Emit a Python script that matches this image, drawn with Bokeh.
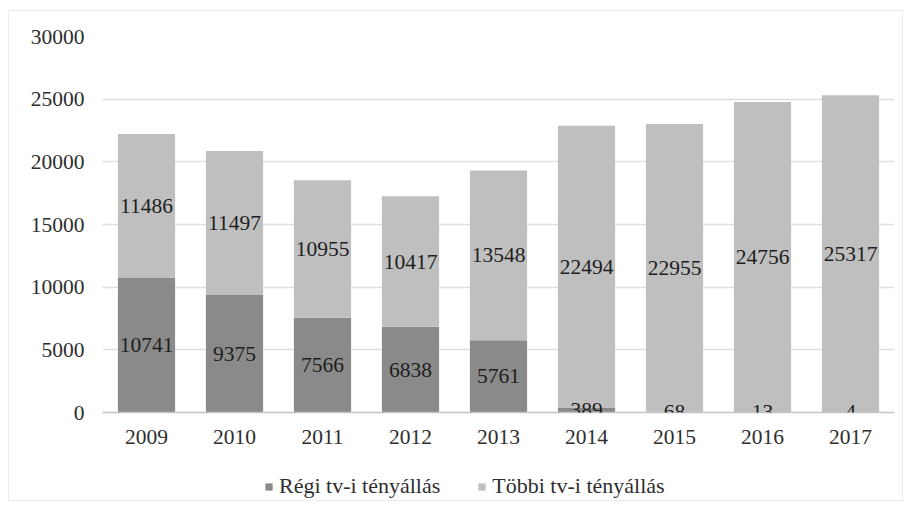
from bokeh.plotting import figure
from bokeh.layouts import column
from bokeh.models import (ColumnDataSource, FixedTicker, Range1d, FactorRange,
                          Legend, LegendItem, LabelSet)
from bokeh.core.properties import value
from bokeh.embed import file_html
from bokeh.resources import INLINE

years = ["2009", "2010", "2011", "2012", "2013", "2014", "2015", "2016", "2017"]
regi = [10741, 9375, 7566, 6838, 5761, 389, 68, 13, 4]
tobbi = [11486, 11497, 10955, 10417, 13548, 22494, 22955, 24756, 25317]
series_names = ["Régi tv-i tényállás", "Többi tv-i tényállás"]
y_ticks = [0, 5000, 10000, 15000, 20000, 25000, 30000]

FONT = "Liberation Serif"
DARK = "#8a8a8a"
LIGHT = "#bfbfbf"
FS = "21.5px"

src = ColumnDataSource(dict(
    year=years, regi=regi, tobbi=tobbi,
    regi_mid=[r / 2 for r in regi],
    tobbi_mid=[r + t / 2 for r, t in zip(regi, tobbi)],
    regi_txt=[str(v) for v in regi],
    tobbi_txt=[str(v) for v in tobbi],
))

p = figure(x_range=FactorRange(*years, range_padding=0), y_range=Range1d(0, 30000),
           width=893, height=443, output_backend="svg", toolbar_location=None,
           min_border_left=93, min_border_right=8, min_border_top=25, min_border_bottom=42)
p.outline_line_color = None
p.background_fill_color = "white"
p.border_fill_color = "white"

rs = p.vbar_stack(["regi", "tobbi"], x="year", width=0.65, source=src,
                  color=[DARK, LIGHT], line_color=None)

for col, txt in (("regi_mid", "regi_txt"), ("tobbi_mid", "tobbi_txt")):
    p.add_layout(LabelSet(x="year", y=col, text=txt, source=src,
                          text_align="center", text_baseline="middle",
                          text_font=value(FONT), text_font_size=FS,
                          text_color="#1e1e1e"))

p.yaxis.ticker = FixedTicker(ticks=y_ticks)
p.yaxis.axis_line_color = None
p.yaxis.major_tick_line_color = None
p.yaxis.minor_tick_line_color = None
p.yaxis.major_tick_out = 0
p.yaxis.major_label_standoff = 18
p.yaxis.major_label_text_font = FONT
p.yaxis.major_label_text_font_size = FS
p.yaxis.major_label_text_color = "#2e2e2e"

p.xaxis.axis_line_color = "#c4c4c4"
p.xaxis.axis_line_width = 1.5
p.xaxis.major_tick_line_color = None
p.xaxis.major_tick_out = 0
p.xaxis.major_label_standoff = 17
p.xaxis.major_label_text_font = FONT
p.xaxis.major_label_text_font_size = FS
p.xaxis.major_label_text_color = "#2e2e2e"

p.xgrid.grid_line_color = None
p.ygrid.grid_line_color = "#dedede"
p.ygrid.grid_line_width = 1.5

# legend strip below the chart
pl = figure(x_range=Range1d(0, 1), y_range=Range1d(0, 1), width=893, height=46,
            output_backend="svg", toolbar_location=None,
            min_border_left=0, min_border_right=0, min_border_top=0, min_border_bottom=0)
pl.axis.visible = False
pl.grid.visible = False
pl.outline_line_color = None
lg_src = ColumnDataSource(dict(x=[0.5], top=[0]))
r1 = pl.vbar(x="x", top="top", width=0.1, source=lg_src, color=DARK, line_color=None)
r2 = pl.vbar(x="x", top="top", width=0.1, source=lg_src, color=LIGHT, line_color=None)

legend = Legend(items=[LegendItem(label=series_names[0], renderers=[r1]),
                       LegendItem(label=series_names[1], renderers=[r2])],
                location=(162, 1), orientation="horizontal",
                glyph_width=9, glyph_height=9, label_standoff=6, spacing=37,
                padding=0, margin=0, border_line_color=None,
                background_fill_alpha=0,
                label_text_font=FONT, label_text_font_size="22px",
                label_text_color="#2e2e2e")
pl.add_layout(legend, "center")

layout = column(p, pl, spacing=0,
                styles={"border": "1px solid #ececec", "margin-left": "8px", "margin-top": "10px"})

open("out.html", "w").write(file_html(layout, INLINE))
